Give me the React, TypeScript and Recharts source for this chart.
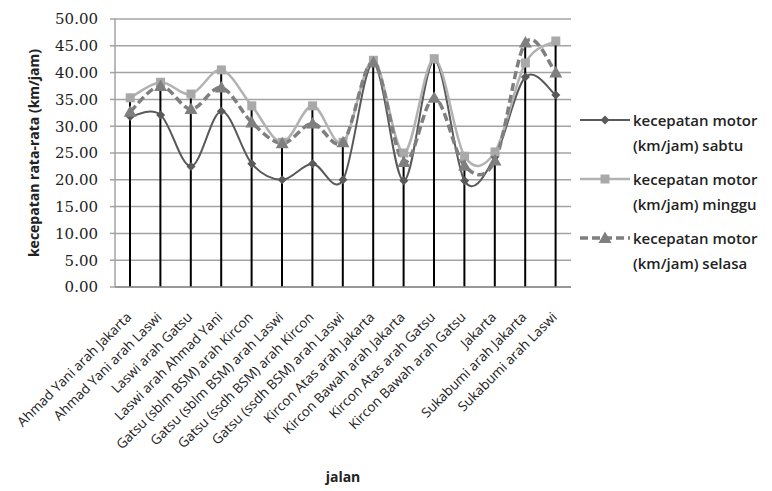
import React from "react";
import {
  ComposedChart,
  Line,
  Bar,
  XAxis,
  YAxis,
  CartesianGrid,
  Legend,
} from "recharts";

const jalan = [
  "Ahmad Yani arah Jakarta",
  "Ahmad Yani arah Laswi",
  "Laswi arah Gatsu",
  "Laswi arah Ahmad Yani",
  "Gatsu (sblm BSM) arah Kircon",
  "Gatsu (sblm BSM) arah Laswi",
  "Gatsu (ssdh BSM) arah Kircon",
  "Gatsu (ssdh BSM) arah Laswi",
  "Kircon Atas arah Jakarta",
  "Kircon Bawah arah Jakarta",
  "Kircon Atas arah Gatsu",
  "Kircon Bawah arah Gatsu",
  "Jakarta",
  "Sukabumi arah Jakarta",
  "Sukabumi arah Laswi",
];

const sabtu = [31.8, 32.1, 22.5, 32.8, 23.0, 20.0, 23.0, 20.0, 41.8, 19.8, 42.3, 19.8, 24.3, 39.2, 35.8];
const minggu = [35.3, 38.2, 36.0, 40.5, 33.8, 27.0, 33.8, 27.0, 42.3, 25.0, 42.6, 24.4, 25.2, 41.8, 45.9];
const selasa = [32.7, 37.5, 33.2, 37.2, 30.7, 26.8, 30.5, 27.0, 41.9, 23.3, 35.3, 22.6, 23.6, 45.6, 40.0];

const yTicks = [0, 5, 10, 15, 20, 25, 30, 35, 40, 45, 50];

const seriesNames = [
  ["kecepatan motor", "(km/jam) sabtu"],
  ["kecepatan motor", "(km/jam) minggu"],
  ["kecepatan motor", "(km/jam) selasa"],
];

const data = jalan.map((name, i) => ({
  name,
  sabtu: sabtu[i],
  minggu: minggu[i],
  selasa: selasa[i],
  top: Math.max(sabtu[i], minggu[i], selasa[i]),
}));

// excel-like smoothing (catmull-rom as bezier)
const smooth = (context: any) => {
  let pts: number[][] = [];
  return {
    areaStart() {},
    areaEnd() {},
    lineStart() {
      pts = [];
    },
    point(x: number, y: number) {
      pts.push([+x, +y]);
    },
    lineEnd() {
      if (!pts.length) return;
      context.moveTo(pts[0][0], pts[0][1]);
      for (let i = 0; i < pts.length - 1; i++) {
        const p0 = pts[i - 1] || pts[i];
        const p1 = pts[i];
        const p2 = pts[i + 1];
        const p3 = pts[i + 2] || p2;
        context.bezierCurveTo(
          p1[0] + (p2[0] - p0[0]) / 6,
          p1[1] + (p2[1] - p0[1]) / 6,
          p2[0] - (p3[0] - p1[0]) / 6,
          p2[1] - (p3[1] - p1[1]) / 6,
          p2[0],
          p2[1]
        );
      }
    },
  };
};

const C_SABTU = "#595959";
const C_MINGGU = "#b2b2b2";
const C_SELASA = "#7f7f7f";

const Diamond = ({ cx, cy }: any) =>
  cx == null ? null : (
    <path d={`M${cx},${cy - 4.5}L${cx + 4.5},${cy}L${cx},${cy + 4.5}L${cx - 4.5},${cy}Z`} fill={C_SABTU} />
  );

const Square = ({ cx, cy }: any) =>
  cx == null ? null : <rect x={cx - 4.5} y={cy - 4.5} width={9} height={9} fill="#a9a9a9" />;

const Triangle = ({ cx, cy }: any) =>
  cx == null ? null : (
    <path d={`M${cx},${cy - 6.5}L${cx + 6.5},${cy + 5}L${cx - 6.5},${cy + 5}Z`} fill={C_SELASA} />
  );

const XTick = ({ x, payload }: any) => {
  const ax = x + 2;
  const ay = 318;
  return (
    <text
      x={ax}
      y={ay}
      transform={`rotate(-45 ${ax} ${ay})`}
      textAnchor="end"
      fontSize={13.5}
      fontFamily="Open Sans"
      fill="#222"
    >
      {payload.value}
    </text>
  );
};

const renderLegend = () => {
  const marks = [
    <Diamond cx={27} cy={0} />,
    <Square cx={27} cy={0} />,
    <Triangle cx={27} cy={0} />,
  ];
  const strokes = [
    { stroke: C_SABTU, width: 2, dash: undefined },
    { stroke: C_MINGGU, width: 2.5, dash: undefined },
    { stroke: C_SELASA, width: 3.5, dash: "8 4" },
  ];
  return (
    <svg width={194} height={175}>
      {seriesNames.map((lines, i) => {
        const y = 15 + i * 59;
        return (
          <g key={i} transform={`translate(0 ${y})`}>
            <line x1={2} x2={52} y1={0} y2={0} stroke={strokes[i].stroke} strokeWidth={strokes[i].width} strokeDasharray={strokes[i].dash} />
            {marks[i]}
            <text x={55} y={0} dominantBaseline="central" fontSize={15} fontWeight={600} fontFamily="Open Sans" fill="#222">
              {lines[0]}
            </text>
            <text x={55} y={25} dominantBaseline="central" fontSize={15} fontWeight={600} fontFamily="Open Sans" fill="#222">
              {lines[1]}
            </text>
          </g>
        );
      })}
    </svg>
  );
};

export default function App() {
  return (
    <div style={{ width: 772, height: 491, background: "#fff" }}>
      <style>{`body{margin:0}`}</style>
      <ComposedChart
        width={772}
        height={491}
        data={data}
        margin={{ top: 19, right: 201, left: 0, bottom: 0 }}
      >
        <CartesianGrid vertical={false} stroke="#a3a3a3" strokeWidth={1.5} />
        <XAxis
          dataKey="name"
          height={204}
          interval={0}
          tickLine={false}
          axisLine={{ stroke: "#8c8c8c", strokeWidth: 1.5 }}
          tick={<XTick />}
          label={{
            value: "jalan",
            position: "insideBottom",
            offset: 9,
            fontSize: 14,
            fontWeight: 700,
            fontFamily: "Open Sans",
            fill: "#222",
          }}
        />
        <YAxis
          width={115}
          domain={[0, 50]}
          ticks={yTicks}
          interval={0}
          tickFormatter={(v: number) => v.toFixed(2)}
          tickSize={5}
          tickMargin={12}
          tickLine={{ stroke: "#a3a3a3", strokeWidth: 1.5 }}
          axisLine={{ stroke: "#a3a3a3", strokeWidth: 1.5 }}
          tick={{ fontSize: 15, fontFamily: "DejaVu Serif", fill: "#222" }}
          label={{
            content: () => (
              <text
                x={33}
                y={153}
                transform="rotate(-90 33 153)"
                textAnchor="middle"
                dominantBaseline="central"
                fontSize={14}
                fontWeight={700}
                fontFamily="Open Sans"
                fill="#222"
              >
                kecepatan rata-rata (km/jam)
              </text>
            ),
          }}
        />
        <Legend
          layout="vertical"
          align="center"
          verticalAlign="middle"
          content={renderLegend}
          wrapperStyle={{ position: "absolute", top: 105, left: 578, width: 194 }}
        />
        <Bar dataKey="top" barSize={2} fill="#000" isAnimationActive={false} legendType="none" />
        <Line
          dataKey="sabtu"
          type={smooth as any}
          stroke={C_SABTU}
          strokeWidth={2}
          dot={<Diamond />}
          activeDot={false}
          isAnimationActive={false}
        />
        <Line
          dataKey="minggu"
          type={smooth as any}
          stroke={C_MINGGU}
          strokeWidth={2.5}
          dot={<Square />}
          activeDot={false}
          isAnimationActive={false}
        />
        <Line
          dataKey="selasa"
          type={smooth as any}
          stroke={C_SELASA}
          strokeWidth={3.5}
          strokeDasharray="8 4"
          dot={<Triangle />}
          activeDot={false}
          isAnimationActive={false}
        />
      </ComposedChart>
    </div>
  );
}
